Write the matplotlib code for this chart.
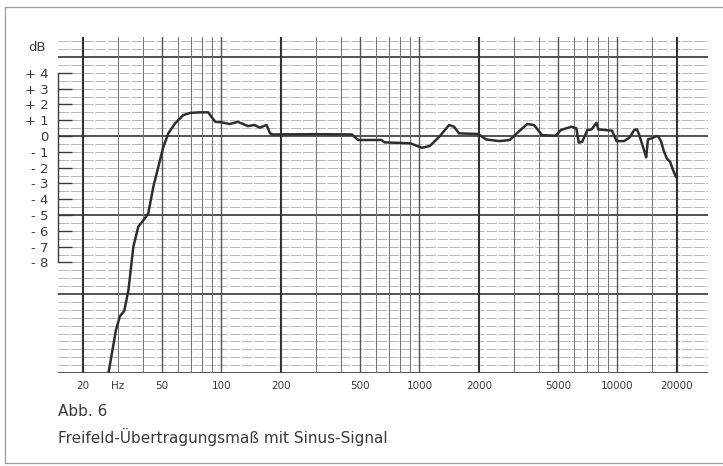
import matplotlib
matplotlib.use("Agg")
import matplotlib.pyplot as plt
from matplotlib.lines import Line2D
from matplotlib.ticker import NullLocator, FixedLocator

# ---- data ----
freq_hz = [26.7, 29.3, 30.7, 32.3, 33.9, 35.9, 38.0, 41.1, 42.7, 45.3, 48.0, 50.9,
           53.9, 58.3, 64.2, 70, 78, 85.7, 93, 100, 110, 121, 136, 147, 156, 169,
           176, 182, 300, 456, 490, 641, 667, 898, 1029, 1128, 1260, 1412, 1495,
           1584, 1979, 2175, 2540, 2860, 3100, 3500, 3790, 4160, 4870, 5180, 5840,
           6200, 6380, 6640, 7050, 7400, 7840, 8010, 8680, 9390, 9900, 10800,
           11500, 12150, 12540, 12900, 13700, 13970, 14260, 14860, 15750, 16120,
           16640, 17090, 17740, 18450, 18960, 19570, 19750]
level_db = [-15.2, -12.3, -11.4, -11.06, -9.75, -7.0, -5.74, -5.2, -4.89, -3.2, -1.94,
            -0.68, 0.17, 0.8, 1.33, 1.47, 1.5, 1.5, 0.9, 0.87, 0.76, 0.9, 0.63, 0.7,
            0.53, 0.7, 0.17, 0.1, 0.12, 0.1, -0.25, -0.25, -0.4, -0.46, -0.74, -0.63,
            -0.04, 0.7, 0.59, 0.17, 0.13, -0.22, -0.32, -0.25, 0.17, 0.76, 0.7, 0.06,
            0.02, 0.38, 0.59, 0.49, -0.42, -0.36, 0.38, 0.42, 0.84, 0.42, 0.38, 0.34,
            -0.32, -0.32, -0.1, 0.38, 0.42, 0.06, -1.0, -1.35, -0.21, -0.15, 0.0,
            -0.04, -0.36, -0.89, -1.41, -1.63, -2.05, -2.47, -2.6]

x_tick_pos = [20, 30, 50, 100, 200, 500, 1000, 2000, 5000, 10000, 20000]
x_tick_labels = ["20", "Hz", "50", "100", "200", "500", "1000", "2000", "5000", "10000", "20000"]
y_tick_pos = [4, 3, 2, 1, 0, -1, -2, -3, -4, -5, -6, -7, -8]
y_tick_labels = ["+ 4", "+ 3", "+ 2", "+ 1", "0", "- 1", "- 2", "- 3", "- 4", "- 5", "- 6", "- 7", "- 8"]
grid_freqs = ([20, 30, 40, 50, 60, 70, 80, 90] + [100 * k for k in range(1, 10)]
              + [1000 * k for k in range(1, 10)] + [10000, 15000, 20000])
caption1 = "Abb. 6"
caption2 = "Freifeld-Übertragungsmaß mit Sinus-Signal"

W, H = 723, 466
fig = plt.figure(figsize=(W / 100, H / 100), dpi=100)
fig.patch.set_facecolor("white")

L, R, T, B = 58, 708, 37, 373
ax = fig.add_axes([L / W, 1 - B / H, (R - L) / W, (B - T) / H])
ax.set_xscale("log")
ax.set_xlim(14.94, 28670)
ax.set_ylim(-15.0, 6.27)

ink = "#3a3a3a"

# horizontal grid
for i in range(-30, 13):
    v = i * 0.5
    if v % 5 == 0:
        ax.axhline(v, color="#444444", lw=1.3, zorder=1)
    else:
        ax.axhline(v, color="#a2a2a2", lw=0.55, ls=(0, (14, 2)), zorder=1)

# vertical grid
for f in grid_freqs:
    if f in (20, 200, 2000, 20000):
        ax.axvline(f, color="#333333", lw=1.5, zorder=1)
    elif f in (50, 100, 500, 1000, 5000, 10000):
        ax.axvline(f, color="#555555", lw=1.0, zorder=1)
    else:
        ax.axvline(f, color="#707070", lw=0.7, zorder=1)

ax.plot(freq_hz, level_db, color="#2e2e2e", lw=1.8, zorder=3,
        solid_joinstyle="round", solid_capstyle="round")

for s in ["top", "right", "bottom"]:
    ax.spines[s].set_visible(False)
ax.spines["left"].set_bounds(-8, 4)
ax.spines["left"].set_color(ink)
ax.spines["left"].set_linewidth(1.0)

ax.yaxis.set_major_locator(FixedLocator(y_tick_pos))
ax.set_yticklabels(y_tick_labels)
ax.tick_params(axis="y", direction="in", length=10, width=1.0, color=ink,
               pad=7, labelsize=9.5, labelcolor=ink)
ax.xaxis.set_major_locator(FixedLocator(x_tick_pos))
ax.xaxis.set_minor_locator(NullLocator())
ax.set_xticklabels(x_tick_labels)
ax.tick_params(axis="x", length=0, pad=6, labelsize=7.5, labelcolor=ink)

ax.text(-0.018, 5.63, "dB", transform=ax.get_yaxis_transform(), ha="right",
        va="center", fontsize=9.5, color=ink)

fig.text(L / W, 1 - 411 / H, caption1, ha="left", va="center", fontsize=11,
         color=ink)
fig.text(L / W, 1 - 437 / H, caption2, ha="left", va="center", fontsize=11,
         color=ink)

# page frame
fc = "#9a9a9a"
fig.add_artist(Line2D([5 / W, 5 / W], [1 - 7 / H, 1 - 463 / H], color=fc, lw=0.9))
fig.add_artist(Line2D([5 / W, 1.0], [1 - 7 / H, 1 - 7 / H], color=fc, lw=0.9))
fig.add_artist(Line2D([5 / W, 1.0], [1 - 463 / H, 1 - 463 / H], color=fc, lw=0.9))

fig.savefig("out.png", dpi=100, facecolor="white")
